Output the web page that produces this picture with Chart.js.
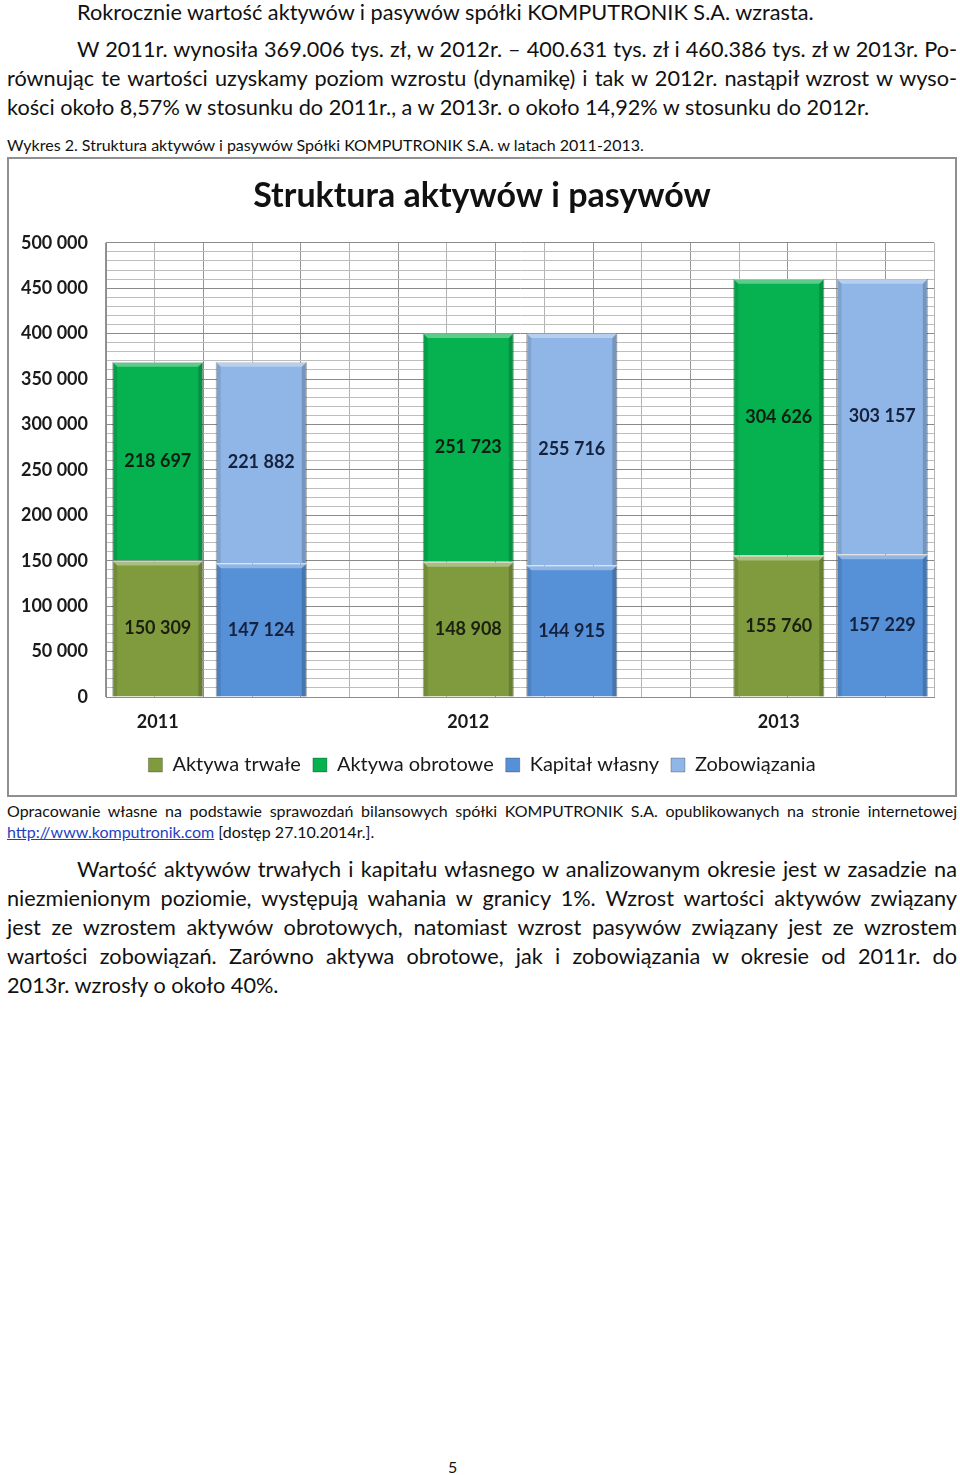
<!DOCTYPE html>
<html lang="pl">
<head>
<meta charset="utf-8">
<title>Struktura aktywów i pasywów</title>
<script src="https://cdn.jsdelivr.net/npm/chart.js@4.4.0/dist/chart.umd.min.js"></script>
<style>
  html, body { margin: 0; padding: 0; background: #fff; }
  body {
    width: 960px; height: 1475px; position: relative; overflow: hidden;
    font-family: Lato, "Open Sans", sans-serif; color: #111;
  }
  .ln { position: absolute; left: 7px; width: 950px; font-size: 21.7px; line-height: 29px; }
  .ind { text-indent: 70px; }
  .jus { text-align: justify; text-align-last: justify; }
  .small { font-size: 16px; line-height: 21px; }
  .box {
    position: absolute; left: 7px; top: 157px; width: 950px; height: 640px;
    box-sizing: border-box; border: 2px solid #8f8f8f; background: #fff;
  }
  .box canvas { display: block; }
  a { color: #1f3fbf; text-decoration: underline; }
  .page { position: absolute; left: 448px; top: 1457px; font-size: 16px; line-height: 20px; }
</style>
</head>
<body>

<div class="ln ind" style="top:-2px">Rokrocznie wartość aktywów i pasywów spółki KOMPUTRONIK S.A. wzrasta.</div>
<div class="ln ind jus" style="top:35px">W 2011r. wynosiła 369.006 tys. zł, w 2012r. – 400.631 tys. zł i 460.386 tys. zł w 2013r. Po-</div>
<div class="ln jus" style="top:64px">równując te wartości uzyskamy poziom wzrostu (dynamikę) i tak w 2012r. nastąpił wzrost w wyso-</div>
<div class="ln" style="top:93px">kości około 8,57% w stosunku do 2011r., a w 2013r. o około 14,92% w stosunku do 2012r.</div>

<div class="ln small" style="top:134px">Wykres 2. Struktura aktywów i pasywów Spółki KOMPUTRONIK S.A. w latach 2011-2013.</div>

<div class="box">
  <canvas id="struktura-chart" width="946" height="636"></canvas>
</div>

<div class="ln small jus" style="top:800px">Opracowanie własne na podstawie sprawozdań bilansowych spółki KOMPUTRONIK S.A. opublikowanych na stronie internetowej</div>
<div class="ln small" style="top:821px"><a>http://www.komputronik.com</a> [dostęp 27.10.2014r.].</div>

<div class="ln ind jus" style="top:855px">Wartość aktywów trwałych i kapitału własnego w analizowanym okresie jest w zasadzie na</div>
<div class="ln jus" style="top:884px">niezmienionym poziomie, występują wahania w granicy 1%. Wzrost wartości aktywów związany</div>
<div class="ln jus" style="top:913px">jest ze wzrostem aktywów obrotowych, natomiast wzrost pasywów związany jest ze wzrostem</div>
<div class="ln jus" style="top:942px">wartości zobowiązań. Zarówno aktywa obrotowe, jak i zobowiązania w okresie od 2011r. do</div>
<div class="ln" style="top:971px">2013r. wzrosły o około 40%.</div>

<div class="page">5</div>

<script>
// Dane (tys. zł)
const years = ["2011", "2012", "2013"];
const aktywaTrwale = [150309, 148908, 155760];
const aktywaObrotowe = [218697, 251723, 304626];
const kapitalWlasny = [147124, 144915, 157229];
const zobowiazania = [221882, 255716, 303157];

const seriesNames = ["Aktywa trwałe", "Aktywa obrotowe", "Kapitał własny", "Zobowiązania"];
const seriesColors = ["#7f9b3e", "#06b150", "#5690d6", "#8fb6e6"];
const labelColors = ["#1b1f10", "#0e1f12", "#15223f", "#15223f"];

const yMax = 500000;
const yStep = 10000;
const yLabelStep = 50000;

// pl-PL style: spaces as thousand separator
function fmt(v) {
  return String(v).replace(/\B(?=(\d{3})+(?!\d))/g, " ");
}

// Each year gets an "aktywa" slot and a "pasywa" slot, then an empty slot
const slots = [];
const assetSlot = [];
const liabSlot = [];
years.forEach((y, i) => {
  assetSlot.push(slots.length);
  slots.push(y);
  liabSlot.push(slots.length);
  slots.push("");
  if (i < years.length - 1) slots.push("");
});

function toSlots(values, positions) {
  const arr = slots.map(() => null);
  values.forEach((v, i) => { arr[positions[i]] = v; });
  return arr;
}

const seriesData = [
  toSlots(aktywaTrwale, assetSlot),
  toSlots(aktywaObrotowe, assetSlot),
  toSlots(kapitalWlasny, liabSlot),
  toSlots(zobowiazania, liabSlot),
];

// Bevel look like the office 3D bars
const bevelPlugin = {
  id: "bevel",
  afterDatasetDraw(chart, args) {
    const ctx = chart.ctx;
    const meta = args.meta;
    const b = 5;
    meta.data.forEach((bar, i) => {
      if (chart.data.datasets[args.index].data[i] == null) return;
      const { x, y, base, width } = bar.getProps(["x", "y", "base", "width"], true);
      const l = x - width / 2, r = x + width / 2;
      const t = Math.min(y, base), bt = Math.max(y, base);
      ctx.save();
      ctx.fillStyle = "rgba(255,255,255,0.35)";
      ctx.beginPath();
      ctx.moveTo(l, t); ctx.lineTo(r, t); ctx.lineTo(r - b, t + b); ctx.lineTo(l + b, t + b);
      ctx.closePath(); ctx.fill();
      ctx.fillStyle = "rgba(0,0,0,0.10)";
      ctx.beginPath();
      ctx.moveTo(l, t); ctx.lineTo(l + b, t + b); ctx.lineTo(l + b, bt); ctx.lineTo(l, bt);
      ctx.closePath(); ctx.fill();
      ctx.fillStyle = "rgba(0,0,0,0.18)";
      ctx.beginPath();
      ctx.moveTo(r, t); ctx.lineTo(r - b, t + b); ctx.lineTo(r - b, bt); ctx.lineTo(r, bt);
      ctx.closePath(); ctx.fill();
      ctx.restore();
    });
  },
};

// Values written in the middle of each segment
const valueLabels = {
  id: "valueLabels",
  afterDatasetsDraw(chart) {
    const ctx = chart.ctx;
    ctx.save();
    ctx.font = "bold 18px Lato, sans-serif";
    ctx.textAlign = "center";
    ctx.textBaseline = "middle";
    chart.data.datasets.forEach((ds, di) => {
      const meta = chart.getDatasetMeta(di);
      meta.data.forEach((bar, i) => {
        const v = ds.data[i];
        if (v == null) return;
        const { x, y, base } = bar.getProps(["x", "y", "base"], true);
        ctx.fillStyle = labelColors[di];
        ctx.fillText(fmt(v), x, (y + base) / 2);
      });
    });
    ctx.restore();
  },
};

const datasets = seriesNames.map((name, i) => ({
  label: name,
  data: seriesData[i],
  backgroundColor: seriesColors[i],
  borderColor: "rgba(0,0,0,0.25)",
  borderWidth: 1,
  categoryPercentage: 1.0,
  barPercentage: 0.88,
}));

new Chart(document.getElementById("struktura-chart"), {
  type: "bar",
  data: { labels: slots, datasets },
  plugins: [bevelPlugin, valueLabels],
  options: {
    responsive: false,
    animation: false,
    layout: { padding: { left: 0, right: 0, top: 0, bottom: 10 } },
    plugins: {
      tooltip: { enabled: false },
      title: {
        display: true,
        text: "Struktura aktywów i pasywów",
        color: "#111",
        font: { family: "Lato, sans-serif", size: 34, weight: "bold" },
        padding: { top: 17, bottom: 26 },
      },
      legend: {
        position: "bottom",
        labels: {
          color: "#1a1a1a",
          font: { family: "Lato, sans-serif", size: 20 },
          boxWidth: 14,
          boxHeight: 14,
          padding: 12,
        },
      },
    },
    scales: {
      x: {
        stacked: true,
        offset: true,
        grid: { display: false },
        border: { display: true, color: "#8c8c8c" },
        ticks: {
          color: "#1a1a1a",
          font: { family: "Lato, sans-serif", size: 18, weight: "bold" },
          padding: 6,
          autoSkip: false,
          maxRotation: 0,
        },
        afterFit(scale) { scale.height = 46; },
      },
      xMinor: {
        type: "linear",
        position: "bottom",
        min: 0,
        max: 16,
        ticks: { display: false, stepSize: 1 },
        grid: {
          drawTicks: false,
          color: (c) => (c.index % 2 === 0 ? "#959595" : "#b3b3b3"),
        },
        border: { display: false },
        afterFit(scale) { scale.height = 0; },
      },
      y: {
        stacked: true,
        min: 0,
        max: yMax,
        grid: {
          drawTicks: false,
          color: (c) => (c.tick && c.tick.value % yLabelStep === 0 ? "#8a8a8a" : "#bdbdbd"),
        },
        border: { display: true, color: "#8c8c8c" },
        ticks: {
          stepSize: yStep,
          autoSkip: false,
          padding: 18,
          color: "#1a1a1a",
          font: { family: "Lato, sans-serif", size: 18, weight: "bold" },
          callback: (v) => (v % yLabelStep === 0 ? fmt(v) : ""),
        },
        afterFit(scale) { scale.width = 97; },
      },
      // empty right-hand spacer so the plot ends where the original does
      yPad: {
        type: "linear",
        position: "right",
        grid: { display: false },
        ticks: { display: false },
        border: { display: false },
        afterFit(scale) { scale.width = 21; },
      },
    },
  },
});
</script>
</body>
</html>
